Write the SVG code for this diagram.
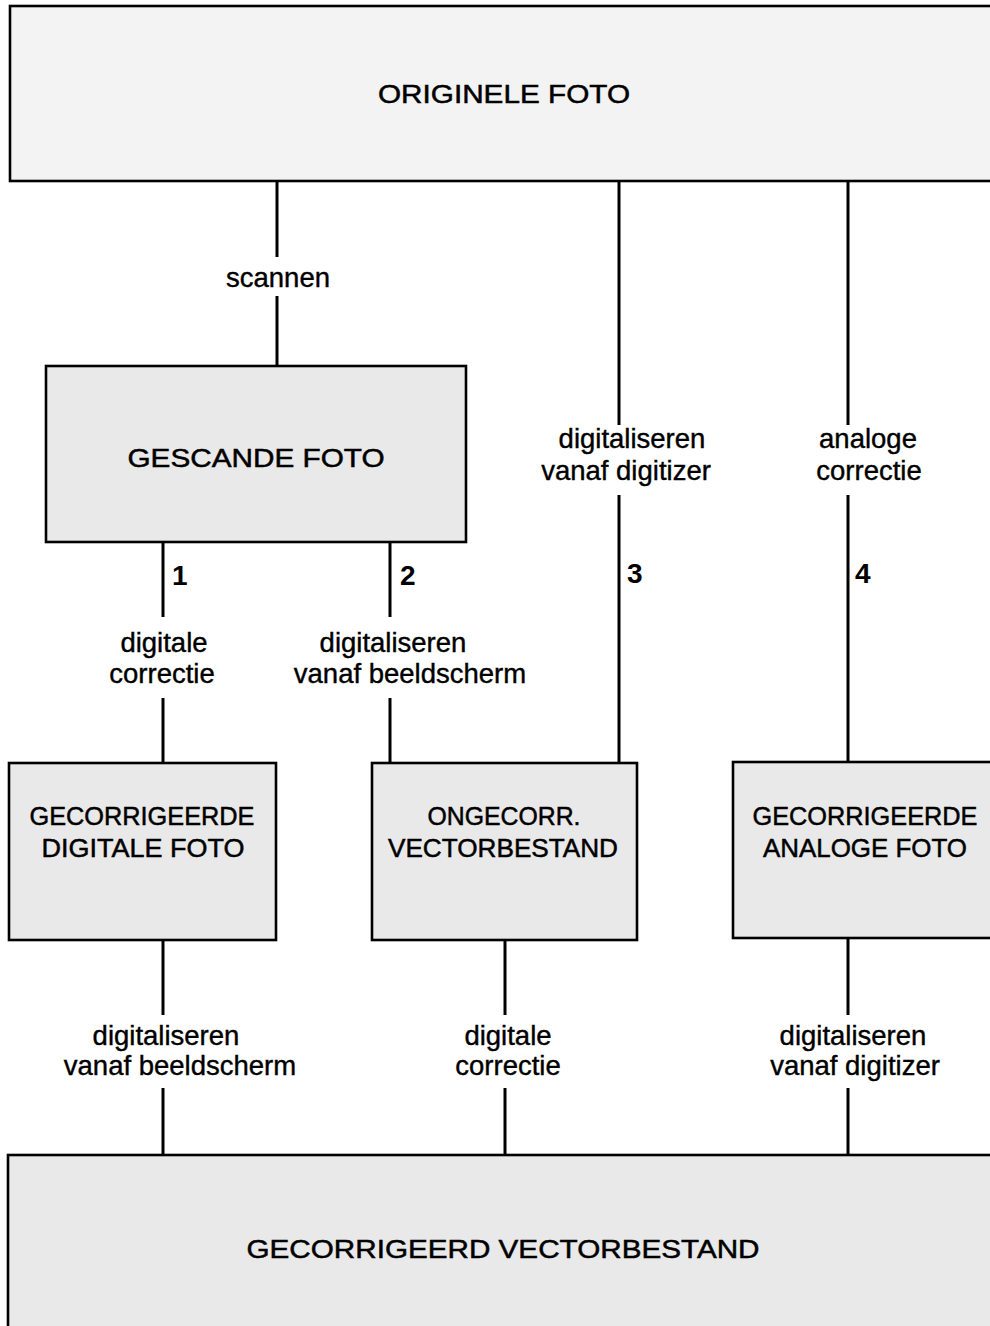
<svg xmlns="http://www.w3.org/2000/svg" width="990" height="1326" viewBox="0 0 990 1326">
<style>
.box{stroke:#000;stroke-width:2.6;fill:#e9e9e9}
.light{fill:#f3f3f3}
.cap{font-family:"Liberation Sans",Arial,sans-serif;font-size:26px;fill:#000;stroke:#000;stroke-width:0.5;text-anchor:middle}
.lbl{font-family:"Liberation Sans",Arial,sans-serif;font-size:27.5px;fill:#000;stroke:#000;stroke-width:0.4;text-anchor:middle}
.num{font-family:"Liberation Sans",Arial,sans-serif;font-size:28px;font-weight:bold;fill:#000}
.ln{stroke:#000;stroke-width:3;fill:none}
</style>
<rect width="990" height="1326" fill="#fff"/>
<g id="connectors">
<path class="ln" d="M277 181V257M277 296V366"/>
<path class="ln" d="M619 181V425M619 495V762"/>
<path class="ln" d="M848 181V425M848 495V762"/>
<path class="ln" d="M163 542V617M163 698V763"/>
<path class="ln" d="M390 542V617M390 698V763"/>
<path class="ln" d="M163 940V1015M163 1088V1155"/>
<path class="ln" d="M505 940V1015M505 1088V1155"/>
<path class="ln" d="M848 938V1015M848 1088V1155"/>
<text class="lbl" x="278" y="287">scannen</text>
<text class="num" x="172" y="585">1</text>
<text class="num" x="400" y="585">2</text>
<text class="num" x="627" y="583">3</text>
<text class="num" x="855" y="583">4</text>
<text class="lbl" x="164" y="652">digitale</text>
<text class="lbl" x="162" y="683">correctie</text>
<text class="lbl" x="393" y="652">digitaliseren</text>
<text class="lbl" x="410" y="683">vanaf beeldscherm</text>
<text class="lbl" x="632" y="448">digitaliseren</text>
<text class="lbl" x="626" y="480">vanaf digitizer</text>
<text class="lbl" x="868" y="448">analoge</text>
<text class="lbl" x="869" y="480">correctie</text>
<text class="lbl" x="166" y="1045">digitaliseren</text>
<text class="lbl" x="180" y="1075">vanaf beeldscherm</text>
<text class="lbl" x="508" y="1045">digitale</text>
<text class="lbl" x="508" y="1075">correctie</text>
<text class="lbl" x="853" y="1045">digitaliseren</text>
<text class="lbl" x="855" y="1075">vanaf digitizer</text>
</g>
<g id="originele-foto">
<rect class="box light" x="10" y="6" width="1000" height="175"/>
<text class="cap" x="504" y="103" textLength="252" lengthAdjust="spacingAndGlyphs">ORIGINELE FOTO</text>
</g>
<g id="gescande-foto">
<rect class="box" x="46" y="366" width="420" height="176"/>
<text class="cap" x="256" y="467" textLength="257" lengthAdjust="spacingAndGlyphs">GESCANDE FOTO</text>
</g>
<g id="gecorrigeerde-digitale-foto">
<rect class="box" x="9" y="763" width="267" height="177"/>
<text class="cap" x="142" y="825" textLength="225" lengthAdjust="spacingAndGlyphs">GECORRIGEERDE</text>
<text class="cap" x="143" y="857" textLength="203" lengthAdjust="spacingAndGlyphs">DIGITALE FOTO</text>
</g>
<g id="ongecorr-vectorbestand">
<rect class="box" x="372" y="763" width="265" height="177"/>
<text class="cap" x="504" y="825" textLength="153" lengthAdjust="spacingAndGlyphs">ONGECORR.</text>
<text class="cap" x="503" y="857" textLength="230" lengthAdjust="spacingAndGlyphs">VECTORBESTAND</text>
</g>
<g id="gecorrigeerde-analoge-foto">
<rect class="box" x="733" y="762" width="280" height="176"/>
<text class="cap" x="865" y="825" textLength="225" lengthAdjust="spacingAndGlyphs">GECORRIGEERDE</text>
<text class="cap" x="865" y="857" textLength="204" lengthAdjust="spacingAndGlyphs">ANALOGE FOTO</text>
</g>
<g id="gecorrigeerd-vectorbestand">
<rect class="box" x="8" y="1155" width="1010" height="200"/>
<text class="cap" x="503" y="1258" textLength="513" lengthAdjust="spacingAndGlyphs">GECORRIGEERD VECTORBESTAND</text>
</g>
</svg>
